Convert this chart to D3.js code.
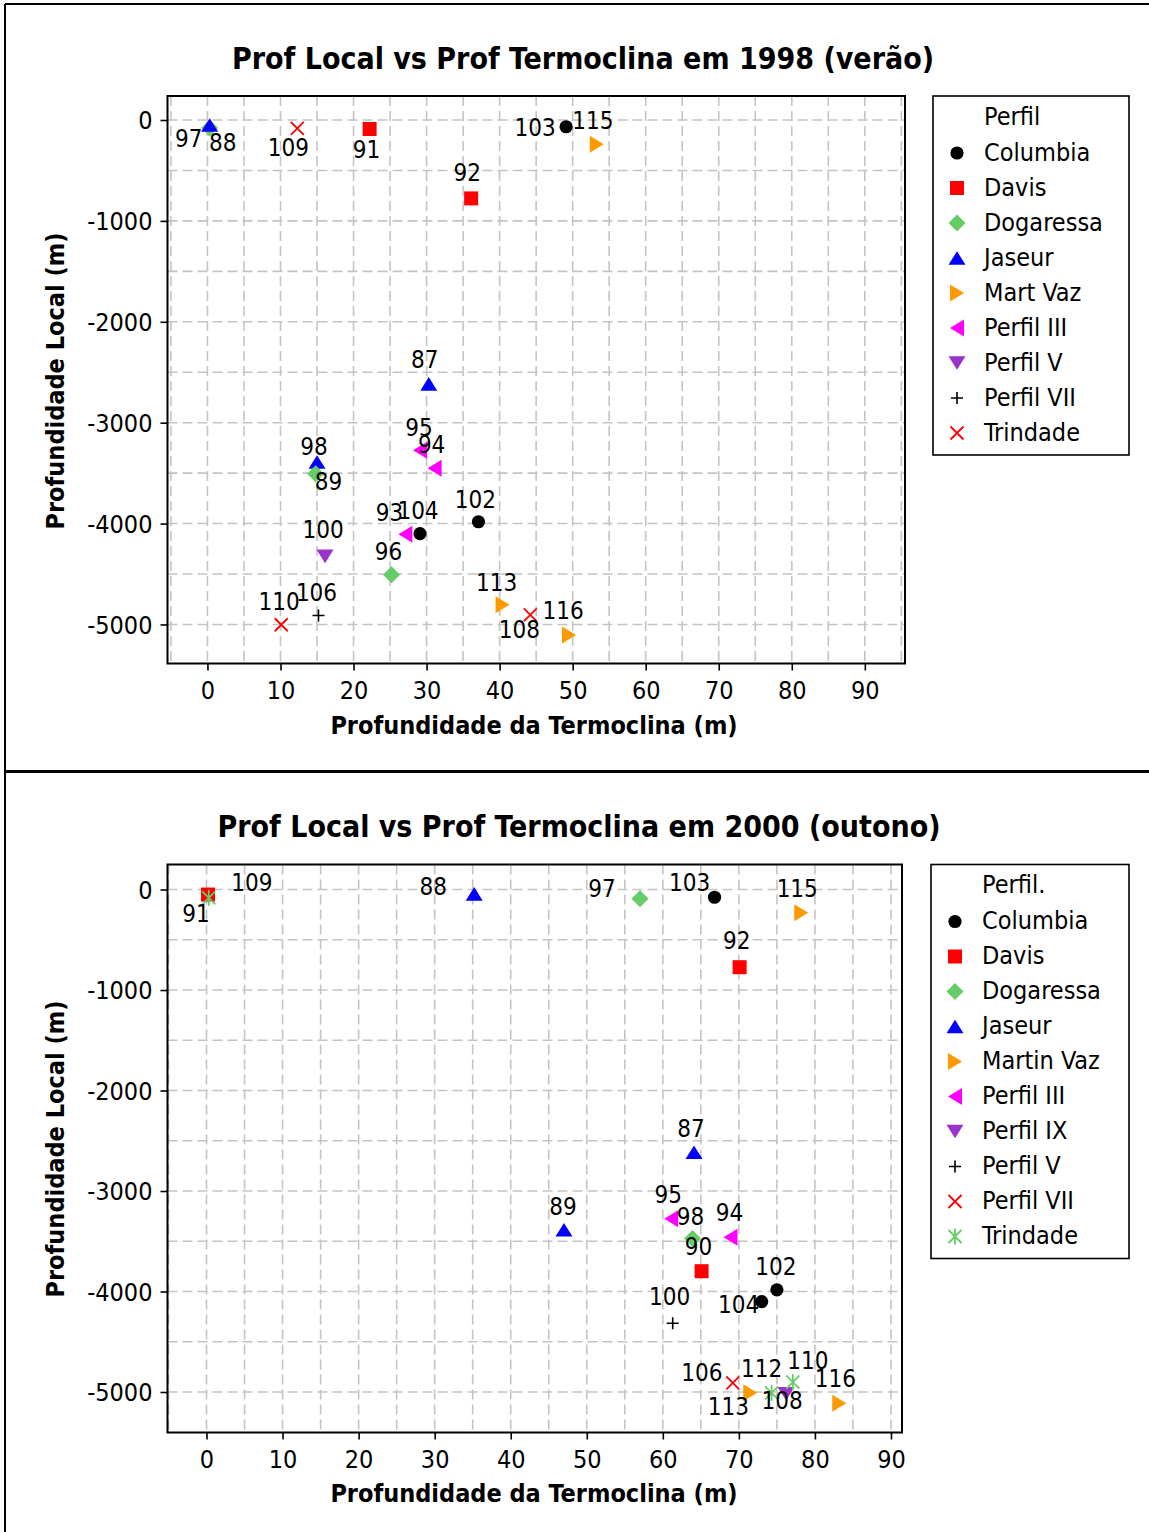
<!DOCTYPE html>
<html>
<head>
<meta charset="utf-8">
<script src="https://cdn.jsdelivr.net/npm/d3@7"></script>
<style>
  body { margin: 0; background: #fff; }
  svg { display: block; }
</style>
</head>
<body>
<svg id="fig" width="1149" height="1532"></svg>
<script>
// Perfis (séries) de cada campanha, na ordem da legenda
const perfis1998 = ["Columbia", "Davis", "Dogaressa", "Jaseur", "Mart Vaz", "Perfil III", "Perfil V", "Perfil VII", "Trindade"];
const perfis2000 = ["Columbia", "Davis", "Dogaressa", "Jaseur", "Martin Vaz", "Perfil III", "Perfil IX", "Perfil V", "Perfil VII", "Trindade"];

// Estações: [estação, perfil, profundidade da termoclina (m), profundidade local (m)]
const estacoes1998 = [
  ["97", "Dogaressa", 0.3, -80],
  ["88", "Jaseur", 0.3, -50],
  ["109", "Trindade", 12.3, -83],
  ["91", "Davis", 22.2, -89],
  ["92", "Davis", 36.1, -777],
  ["103", "Columbia", 49.1, -67],
  ["115", "Mart Vaz", 53.3, -241],
  ["87", "Jaseur", 30.3, -2615],
  ["95", "Perfil III", 29.1, -3274],
  ["94", "Perfil III", 31.1, -3451],
  ["98", "Jaseur", 15.0, -3390],
  ["89", "Dogaressa", 14.8, -3505],
  ["100", "Perfil V", 16.1, -4325],
  ["93", "Perfil III", 27.1, -4107],
  ["104", "Columbia", 29.1, -4100],
  ["96", "Dogaressa", 25.2, -4507],
  ["102", "Columbia", 37.1, -3982],
  ["110", "Trindade", 10.1, -5003],
  ["106", "Perfil VII", 15.2, -4911],
  ["113", "Mart Vaz", 40.4, -4805],
  ["108", "Trindade", 44.2, -4904],
  ["116", "Mart Vaz", 49.5, -5105]
];

const estacoes2000 = [
  ["91", "Davis", 0.2, -50],
  ["109", "Trindade", 0.3, -83],
  ["88", "Jaseur", 35.2, -43],
  ["97", "Dogaressa", 57.0, -93],
  ["103", "Columbia", 66.8, -77],
  ["115", "Martin Vaz", 78.2, -232],
  ["92", "Davis", 70.1, -773],
  ["87", "Jaseur", 64.1, -2614],
  ["89", "Jaseur", 47.0, -3386],
  ["95", "Perfil III", 61.1, -3277],
  ["98", "Dogaressa", 63.9, -3473],
  ["94", "Perfil III", 68.9, -3460],
  ["90", "Davis", 65.1, -3798],
  ["102", "Columbia", 75.0, -3983],
  ["104", "Columbia", 73.0, -4100],
  ["100", "Perfil V", 61.3, -4316],
  ["106", "Perfil VII", 69.2, -4909],
  ["113", "Martin Vaz", 71.5, -5008],
  ["112", "Trindade", 74.3, -5008],
  ["108", "Perfil IX", 76.2, -5018],
  ["110", "Trindade", 77.1, -4902],
  ["116", "Martin Vaz", 83.2, -5111]
];

// Valores das marcas dos eixos
const ticksX = [0, 10, 20, 30, 40, 50, 60, 70, 80, 90];
const ticksY = [0, -1000, -2000, -3000, -4000, -5000];

// Símbolo e cor de cada perfil
const estilo1998 = {
  "Columbia":   { forma: "circle",   cor: "#000000" },
  "Davis":      { forma: "square",   cor: "#ff0000" },
  "Dogaressa":  { forma: "diamond",  cor: "#66cc66" },
  "Jaseur":     { forma: "up",       cor: "#0000ff" },
  "Mart Vaz":   { forma: "right",    cor: "#ff9900" },
  "Perfil III": { forma: "left",     cor: "#ff00ff" },
  "Perfil V":   { forma: "down",     cor: "#9933cc" },
  "Perfil VII": { forma: "plus",     cor: "#000000" },
  "Trindade":   { forma: "cross",    cor: "#ff0000" }
};
const estilo2000 = {
  "Columbia":   { forma: "circle",   cor: "#000000" },
  "Davis":      { forma: "square",   cor: "#ff0000" },
  "Dogaressa":  { forma: "diamond",  cor: "#66cc66" },
  "Jaseur":     { forma: "up",       cor: "#0000ff" },
  "Martin Vaz": { forma: "right",    cor: "#ff9900" },
  "Perfil III": { forma: "left",     cor: "#ff00ff" },
  "Perfil IX":  { forma: "down",     cor: "#9933cc" },
  "Perfil V":   { forma: "plus",     cor: "#000000" },
  "Perfil VII": { forma: "cross",    cor: "#ff0000" },
  "Trindade":   { forma: "asterisk", cor: "#66cc66" }
};

// Deslocamento (px) de cada rótulo em relação à sua marca
const rotulos1998 = {
  "97": [-21, 11], "88": [13, 18], "109": [-9, 19], "91": [-3, 21], "92": [-4, -26],
  "103": [-31, 1], "115": [-4, -24], "87": [-4, -24], "95": [-1, -23], "94": [-3, -24],
  "98": [-3, -15], "89": [13, 8], "100": [-2, -27], "93": [-16, -22], "104": [-2, -23],
  "96": [-3, -23], "102": [-3, -22], "110": [-2, -23], "106": [-2, -23], "113": [-6, -22],
  "108": [-11, 15], "116": [-6, -24]
};
const rotulos2000 = {
  "91": [-12, 19], "109": [43, -15], "88": [-41, -7], "97": [-38, -10], "103": [-25, -15],
  "115": [-4, -24], "92": [-3, -27], "87": [-3, -24], "89": [-1, -23], "95": [-3, -24],
  "98": [-2, -22], "94": [-1, -25], "90": [-3, -25], "102": [-1, -23], "104": [-23, 3],
  "100": [-3, -27], "106": [-31, -10], "113": [-22, 14], "112": [-10, -24], "108": [-4, 7],
  "110": [15, -22], "116": [-4, -25]
};

const FONTE = "'DejaVu Sans Condensed', 'DejaVu Sans', sans-serif";
const svg = d3.select("#fig").style("font-family", FONTE).style("font-stretch", "condensed");

// Caminho SVG de cada símbolo, centrado na origem
function simbolo(forma) {
  switch (forma) {
    case "circle":  return d3.symbol(d3.symbolCircle, Math.PI * 6.6 * 6.6)();
    case "square":  return "M-7,-7H7V7H-7Z";
    case "diamond": return "M0,-8.5L8.5,0L0,8.5L-8.5,0Z";
    case "up":      return "M0,-6.8L8.5,6.8H-8.5Z";
    case "down":    return "M0,6.8L8.5,-6.8H-8.5Z";
    case "right":   return "M7,0L-7,8.5V-8.5Z";
    case "left":    return "M-7,0L7,8.5V-8.5Z";
    case "plus":    return "M-6,0H6M0,-6V6";
    case "cross":   return "M-6.5,-6.5L6.5,6.5M-6.5,6.5L6.5,-6.5";
    case "asterisk": return "M-6.5,-6.5L6.5,6.5M-6.5,6.5L6.5,-6.5M0,-8V8";
  }
}
const linear = f => f === "plus" || f === "cross" || f === "asterisk";

function desenhaMarca(sel, est) {
  sel.append("path")
    .attr("d", simbolo(est.forma))
    .attr("fill", linear(est.forma) ? "none" : est.cor)
    .attr("stroke", linear(est.forma) ? est.cor : "none")
    .attr("stroke-width", est.forma === "plus" ? 1.6 : 1.8);
}

function grafico(cfg) {
  const g = svg.append("g");
  const { esq, dir, topo, base } = cfg.quadro;

  const x = d3.scaleLinear().domain(cfg.dominioX).range([esq, dir]);
  const y = d3.scaleLinear().domain(cfg.dominioY).range([base, topo]);

  // Título
  g.append("text")
    .attr("x", cfg.titulo.x).attr("y", cfg.titulo.y).attr("dy", "0.35em")
    .attr("text-anchor", "middle")
    .attr("font-size", 30).attr("font-weight", "bold")
    .text(cfg.titulo.texto);

  // Grade tracejada
  const grade = g.append("g")
    .attr("stroke", "#c4c4c4").attr("stroke-width", 1.6).attr("stroke-dasharray", "10,5");
  d3.range(-5, cfg.dominioX[1], 5).filter(v => v >= cfg.dominioX[0]).forEach(v => {
    grade.append("line").attr("x1", x(v)).attr("x2", x(v)).attr("y1", topo).attr("y2", base);
  });
  d3.range(-5000, cfg.dominioY[1], 500).filter(v => v >= cfg.dominioY[0]).forEach(v => {
    grade.append("line").attr("x1", esq).attr("x2", dir).attr("y1", y(v)).attr("y2", y(v));
  });

  // Eixos
  const eixoX = g.append("g")
    .attr("transform", `translate(0,${base})`)
    .call(d3.axisBottom(x).tickValues(ticksX).tickSize(7).tickPadding(11).tickFormat(d => String(d)));
  const eixoY = g.append("g")
    .attr("transform", `translate(${esq},0)`)
    .call(d3.axisLeft(y).tickValues(ticksY).tickSize(7).tickPadding(8).tickFormat(d => String(d)));
  [eixoX, eixoY].forEach(a => {
    a.select(".domain").remove();
    a.selectAll("line").attr("stroke", "#000").attr("stroke-width", 1.6);
    a.selectAll("text").attr("font-size", 25).attr("fill", "#000").style("font-family", FONTE);
  });
  eixoY.selectAll("text").attr("dy", "0.35em");

  // Quadro da área de plotagem
  g.append("rect")
    .attr("x", esq).attr("y", topo).attr("width", dir - esq).attr("height", base - topo)
    .attr("fill", "none").attr("stroke", "#000").attr("stroke-width", 2);

  // Títulos dos eixos
  g.append("text")
    .attr("x", cfg.rotuloX.x).attr("y", cfg.rotuloX.y).attr("dy", "0.35em")
    .attr("text-anchor", "middle").attr("font-size", 25).attr("font-weight", "bold")
    .text("Profundidade da Termoclina (m)");
  g.append("text")
    .attr("transform", `translate(${cfg.rotuloY.x},${cfg.rotuloY.y}) rotate(-90)`)
    .attr("dy", "0.35em")
    .attr("text-anchor", "middle").attr("font-size", 25).attr("font-weight", "bold")
    .text("Profundidade Local (m)");

  // Estações
  const pts = g.append("g");
  cfg.dados.forEach(([id, perfil, tx, py]) => {
    const m = pts.append("g").attr("transform", `translate(${x(tx)},${y(py)})`);
    desenhaMarca(m, cfg.estilo[perfil]);
  });
  cfg.dados.forEach(([id, perfil, tx, py]) => {
    const [dx, dy] = cfg.rotulos[id];
    pts.append("text")
      .attr("x", x(tx) + dx).attr("y", y(py) + dy).attr("dy", "0.35em")
      .attr("text-anchor", "middle").attr("font-size", 24)
      .text(id);
  });

  // Legenda
  const L = cfg.legenda;
  const leg = g.append("g");
  leg.append("rect")
    .attr("x", L.esq).attr("y", L.topo).attr("width", L.larg).attr("height", L.alt)
    .attr("fill", "#fff").attr("stroke", "#000").attr("stroke-width", 1.6);
  leg.append("text")
    .attr("x", L.esq + 51).attr("y", L.topo + 20).attr("dy", "0.35em")
    .attr("font-size", 25).text(L.titulo);
  cfg.perfis.forEach((p, i) => {
    const cy = L.topo + 56 + i * L.passo;
    const m = leg.append("g").attr("transform", `translate(${L.esq + 24},${cy + 1})`);
    desenhaMarca(m, cfg.estilo[p]);
    leg.append("text")
      .attr("x", L.esq + 51).attr("y", cy).attr("dy", "0.35em")
      .attr("font-size", 25).text(p);
  });
}

// Molduras da figura
const moldura = svg.append("g").attr("stroke", "#000");
moldura.append("line").attr("x1", 5).attr("x2", 1149).attr("y1", 4).attr("y2", 4).attr("stroke-width", 2);
moldura.append("line").attr("x1", 5).attr("x2", 5).attr("y1", 4).attr("y2", 1532).attr("stroke-width", 2);
moldura.append("line").attr("x1", 5).attr("x2", 1149).attr("y1", 771.5).attr("y2", 771.5).attr("stroke-width", 3);

grafico({
  titulo: { texto: "Prof Local vs Prof Termoclina em 1998 (verão)", x: 583, y: 58 },
  quadro: { esq: 167.5, dir: 905, topo: 96, base: 663.5 },
  dominioX: [-5.47, 95.5],
  dominioY: [-5387, 238],
  rotuloX: { x: 534, y: 725 },
  rotuloY: { x: 55, y: 381 },
  dados: estacoes1998,
  estilo: estilo1998,
  rotulos: rotulos1998,
  perfis: perfis1998,
  legenda: { titulo: "Perfil", esq: 933, topo: 96, larg: 196, alt: 359, passo: 35 }
});

grafico({
  titulo: { texto: "Prof Local vs Prof Termoclina em 2000 (outono)", x: 579, y: 826 },
  quadro: { esq: 167.5, dir: 902, topo: 864.5, base: 1432.5 },
  dominioX: [-5.13, 91.45],
  dominioY: [-5403, 249],
  rotuloX: { x: 534, y: 1493 },
  rotuloY: { x: 55, y: 1149 },
  dados: estacoes2000,
  estilo: estilo2000,
  rotulos: rotulos2000,
  perfis: perfis2000,
  legenda: { titulo: "Perfil.", esq: 931, topo: 864.5, larg: 198, alt: 394, passo: 35 }
});
</script>
</body>
</html>
